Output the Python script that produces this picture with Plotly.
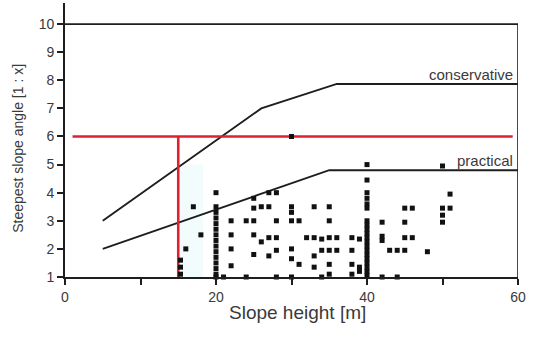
import plotly.graph_objects as go

# Slope design curves (slope height in m, steepest angle as 1 : x)
conservative_x = [5, 26, 36, 60]
conservative_y = [3.0, 7.0, 7.87, 7.87]
practical_x = [5, 35, 60]
practical_y = [2.0, 4.8, 4.8]

# Observed slopes
obs_x = (
    [15.3, 15.3, 15.3, 16, 17, 18]
    + [20] * 15
    + [21, 22, 22, 22, 22, 24, 24]
    + [25, 25, 25, 25, 25, 26, 26, 27, 27, 27, 27]
    + [28, 28, 28, 28, 28, 30, 30, 30, 30, 30, 30, 30]
    + [31, 31, 32, 33, 33, 33, 33, 34, 34, 34]
    + [35, 35, 35, 35, 35, 35, 36, 36, 38, 38, 38, 38, 39, 39, 39]
    + [40] * 20
    + [42, 42, 42, 42, 43, 44, 44, 45, 45, 45, 45, 46, 46, 48]
    + [50, 50, 50, 50, 51, 51]
)
obs_y = (
    [1.1, 1.35, 1.6, 2.0, 3.5, 2.5]
    + [4.0, 3.5, 3.3, 3.1, 2.9, 2.7, 2.5, 2.3, 2.1, 1.9, 1.7, 1.5, 1.3, 1.1, 1.0]
    + [1.0, 3.0, 2.5, 2.0, 1.4, 3.0, 1.0]
    + [3.8, 3.45, 3.0, 2.5, 1.8, 3.5, 2.25, 4.0, 3.5, 2.4, 1.75]
    + [4.0, 3.0, 2.4, 1.95, 1.0, 3.5, 3.3, 3.0, 2.0, 1.65, 1.0, 6.0]
    + [3.0, 1.45, 2.4, 3.5, 2.4, 1.75, 1.35, 2.35, 1.95, 1.0]
    + [3.5, 3.0, 2.4, 1.95, 1.45, 1.1, 2.4, 1.95, 2.4, 1.95, 1.45, 1.1, 2.35, 1.35, 1.2]
    + [5.0, 4.45, 4.0, 3.8, 3.6, 3.45, 3.0, 2.85, 2.7, 2.55, 2.4, 2.25, 2.1,
       1.95, 1.8, 1.65, 1.5, 1.35, 1.2, 1.05]
    + [2.95, 2.45, 2.3, 1.0, 1.95, 1.95, 1.0, 3.45, 2.95, 2.4, 1.95, 3.45, 2.4, 1.9]
    + [4.95, 3.45, 3.2, 2.95, 3.95, 3.45]
)

# Red reading guide
guide_h_x = [1, 59.3]
guide_h_y = [6, 6]
guide_v_x = [15, 15]
guide_v_y = [6, 1]

x_ticks = [0, 10, 20, 30, 40, 50, 60]
x_tick_text = ["0", "", "20", "", "40", "", "60"]
y_ticks = [1, 2, 3, 4, 5, 6, 7, 8, 9, 10]

FONT = "Liberation Sans, Arial, sans-serif"
INK = "#1e1e1e"
TXT = "#3a3a3a"

fig = go.Figure()

# faint shaded band beside the guide
fig.add_shape(type="rect", x0=15.3, x1=18.3, y0=1, y1=5.0, xref="x", yref="y",
              fillcolor="rgba(200,240,242,0.22)", line=dict(width=0), layer="below")

# frame: top line at 10 and right edge at 60
fig.add_trace(go.Scatter(x=[0, 60, 60], y=[10, 10, 1], mode="lines",
                         line=dict(color=INK, width=1.6), hoverinfo="skip"))

fig.add_trace(go.Scatter(x=conservative_x, y=conservative_y, mode="lines",
                         line=dict(color=INK, width=1.9)))
fig.add_trace(go.Scatter(x=practical_x, y=practical_y, mode="lines",
                         line=dict(color=INK, width=1.9)))

fig.add_trace(go.Scatter(x=guide_h_x, y=guide_h_y, mode="lines",
                         line=dict(color="#e0202e", width=2.6)))
fig.add_trace(go.Scatter(x=guide_v_x, y=guide_v_y, mode="lines",
                         line=dict(color="#e0202e", width=2.6)))

fig.add_trace(go.Scatter(x=obs_x, y=obs_y, mode="markers", cliponaxis=False,
                         marker=dict(symbol="square", size=5, color="#111111")))

fig.add_annotation(x=59.6, y=conservative_y[-1], xref="x", yref="y", text="conservative",
                   showarrow=False, xanchor="right", yanchor="bottom", yshift=-1,
                   font=dict(family=FONT, size=15, color=TXT))
fig.add_annotation(x=59.6, y=practical_y[-1], xref="x", yref="y", text="practical",
                   showarrow=False, xanchor="right", yanchor="bottom", yshift=-1,
                   font=dict(family=FONT, size=15, color=TXT))

fig.add_annotation(x=-0.104, y=0.471, xref="paper", yref="paper",
                   text="Steepest slope angle [1 : x]", textangle=-90, showarrow=False,
                   xanchor="center", yanchor="middle",
                   font=dict(family=FONT, size=14, color=TXT))
fig.add_annotation(x=0.514, y=-0.128, xref="paper", yref="paper",
                   text="Slope height [m]", showarrow=False,
                   xanchor="center", yanchor="middle",
                   font=dict(family=FONT, size=19, color=TXT))

fig.update_layout(
    width=540, height=338,
    margin=dict(l=65, r=22, t=3, b=61),
    paper_bgcolor="white", plot_bgcolor="white",
    showlegend=False,
    font=dict(family=FONT, color=TXT),
    xaxis=dict(range=[0, 60], tickvals=x_ticks, ticktext=x_tick_text,
               showgrid=False, zeroline=False, showline=True, linecolor=INK, linewidth=1.6,
               ticks="outside", ticklen=6, tickwidth=1.5, tickcolor=INK,
               tickfont=dict(family=FONT, size=14, color=TXT)),
    yaxis=dict(range=[1, 10.75], tickvals=y_ticks,
               showgrid=False, zeroline=False, showline=True, linecolor=INK, linewidth=1.6,
               ticks="outside", ticklen=6, tickwidth=1.5, tickcolor=INK,
               tickfont=dict(family=FONT, size=14, color=TXT)),
)

fig.write_html("out.html")
